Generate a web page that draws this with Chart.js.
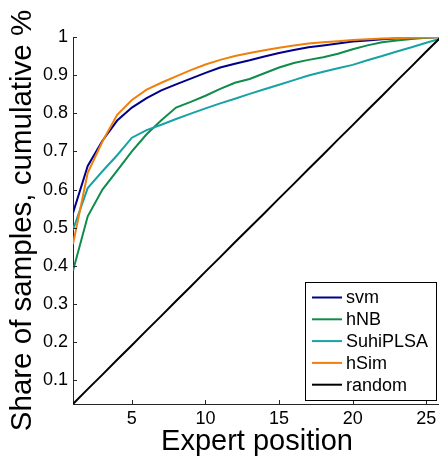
<!DOCTYPE html>
<html>
<head>
<meta charset="utf-8">
<script src="https://cdn.jsdelivr.net/npm/chart.js@4/dist/chart.umd.min.js"></script>
<style>
html, body { margin: 0; padding: 0; background: #fff; overflow: hidden; }
#wrap { width: 441px; height: 457px; }
</style>
</head>
<body>
<div id="wrap"><canvas id="chart" width="441" height="457"></canvas></div>
<script>
// Data
const positions = [1, 2, 3, 4, 5, 6, 7, 8, 9, 10, 11, 12, 13, 14, 15, 16, 17, 18, 19, 20, 21, 22, 23, 24, 25, 26];
const svm = [0.539, 0.662, 0.728, 0.781, 0.815, 0.840, 0.860, 0.876, 0.891, 0.906, 0.920, 0.930, 0.939, 0.949, 0.958, 0.966, 0.973, 0.978, 0.983, 0.988, 0.991, 0.994, 0.996, 0.998, 0.999, 1.0];
const hNB = [0.387, 0.530, 0.600, 0.650, 0.700, 0.745, 0.782, 0.815, 0.830, 0.846, 0.864, 0.880, 0.890, 0.905, 0.920, 0.932, 0.940, 0.947, 0.956, 0.968, 0.978, 0.986, 0.991, 0.995, 0.998, 1.0];
const suhiPLSA = [0.495, 0.604, 0.648, 0.690, 0.736, 0.756, 0.770, 0.785, 0.799, 0.813, 0.826, 0.838, 0.851, 0.863, 0.875, 0.887, 0.899, 0.909, 0.918, 0.927, 0.939, 0.950, 0.962, 0.973, 0.985, 0.996];
const hSim = [0.457, 0.644, 0.726, 0.796, 0.835, 0.862, 0.880, 0.897, 0.913, 0.928, 0.940, 0.950, 0.958, 0.965, 0.972, 0.978, 0.983, 0.986, 0.989, 0.992, 0.994, 0.996, 0.997, 0.998, 0.999, 1.0];
const random = [0.038, 0.077, 0.115, 0.154, 0.192, 0.231, 0.269, 0.308, 0.346, 0.385, 0.423, 0.462, 0.500, 0.538, 0.577, 0.615, 0.654, 0.692, 0.731, 0.769, 0.808, 0.846, 0.885, 0.923, 0.962, 1.0];

const xTicks = [5, 10, 15, 20, 25];
const yTicks = [0.1, 0.2, 0.3, 0.4, 0.5, 0.6, 0.7, 0.8, 0.9, 1];

const FONT = "'Liberation Sans', Arial, Helvetica, sans-serif";
const AXIS_COLOR = '#262626';

function series(values) {
    return positions.map((x, i) => ({ x: x, y: values[i] }));
}

// Matlab style ticks pointing into the plot
const innerTicks = {
    id: 'innerTicks',
    afterDraw(chart) {
        const { ctx, chartArea, scales: { x, y } } = chart;
        ctx.save();
        ctx.strokeStyle = AXIS_COLOR;
        ctx.lineWidth = 1;
        ctx.beginPath();
        x.ticks.forEach(t => {
            const px = Math.round(x.getPixelForValue(t.value)) + 0.5;
            ctx.moveTo(px, chartArea.bottom);
            ctx.lineTo(px, chartArea.bottom - 4);
        });
        y.ticks.forEach(t => {
            const py = Math.round(y.getPixelForValue(t.value)) + 0.5;
            ctx.moveTo(chartArea.left, py);
            ctx.lineTo(chartArea.left + 4, py);
        });
        ctx.stroke();
        ctx.restore();
    }
};

// Legend box in the lower right corner
const boxLegend = {
    id: 'boxLegend',
    afterDraw(chart) {
        const ctx = chart.ctx;
        const left = 305.5, top = 282.5, w = 131, h = 118;
        ctx.save();
        ctx.fillStyle = '#fff';
        ctx.fillRect(left, top, w, h);
        ctx.strokeStyle = '#000';
        ctx.lineWidth = 1;
        ctx.strokeRect(left, top, w, h);
        ctx.font = '18px ' + FONT;
        ctx.textBaseline = 'middle';
        chart.data.datasets.forEach((ds, i) => {
            const cy = 297.5 + i * 21.8;
            ctx.strokeStyle = ds.borderColor;
            ctx.lineWidth = 2;
            ctx.beginPath();
            ctx.moveTo(312, cy);
            ctx.lineTo(342, cy);
            ctx.stroke();
            ctx.fillStyle = '#000';
            ctx.fillText(ds.label, 346, cy + 1);
        });
        ctx.restore();
    }
};

const ctx = document.getElementById('chart').getContext('2d');
const chart = new Chart(ctx, {
    type: 'line',
    data: {
        datasets: [
            { label: 'svm', data: series(svm), borderColor: '#00008B', order: 5 },
            { label: 'hNB', data: series(hNB), borderColor: '#0F8B4A', order: 4 },
            { label: 'SuhiPLSA', data: series(suhiPLSA), borderColor: '#17A2A6', order: 3 },
            { label: 'hSim', data: series(hSim), borderColor: '#F07F0C', order: 2 },
            { label: 'random', data: series(random), borderColor: '#000000', order: 1 }
        ]
    },
    options: {
        responsive: false,
        animation: false,
        events: [],
        elements: {
            line: { borderWidth: 2, tension: 0, fill: false },
            point: { radius: 0 }
        },
        layout: { padding: { top: 37, right: 0, bottom: 0, left: 0 } },
        scales: {
            x: {
                type: 'linear',
                min: 1,
                max: 26,
                grid: { display: false, drawTicks: false },
                border: { display: true, color: AXIS_COLOR, width: 1 },
                afterBuildTicks: s => { s.ticks = xTicks.map(v => ({ value: v })); },
                afterFit: s => { s.height = 53; },
                ticks: {
                    color: '#000',
                    padding: 4,
                    maxRotation: 0,
                    font: { family: FONT, size: 18 },
                    callback: v => String(v)
                },
                title: {
                    display: true,
                    text: 'Expert position',
                    color: '#000',
                    font: { family: FONT, size: 29, lineHeight: 1 },
                    padding: { top: 0, bottom: 1 }
                }
            },
            y: {
                min: 0.038,
                max: 1,
                grid: { display: false, drawTicks: false },
                border: { display: true, color: AXIS_COLOR, width: 1 },
                afterBuildTicks: s => { s.ticks = yTicks.map(v => ({ value: v })); },
                afterFit: s => { s.width = 73; },
                ticks: {
                    color: '#000',
                    padding: 5,
                    font: { family: FONT, size: 18 },
                    callback: v => (v === 1 ? '1' : v.toFixed(1))
                },
                title: {
                    display: true,
                    text: 'Share of samples, cumulative %',
                    color: '#000',
                    font: { family: FONT, size: 29.5, lineHeight: 1 },
                    padding: { top: 8, bottom: 0 }
                }
            }
        },
        plugins: {
            legend: { display: false },
            tooltip: { enabled: false }
        }
    },
    plugins: [innerTicks, boxLegend]
});
</script>
</body>
</html>
